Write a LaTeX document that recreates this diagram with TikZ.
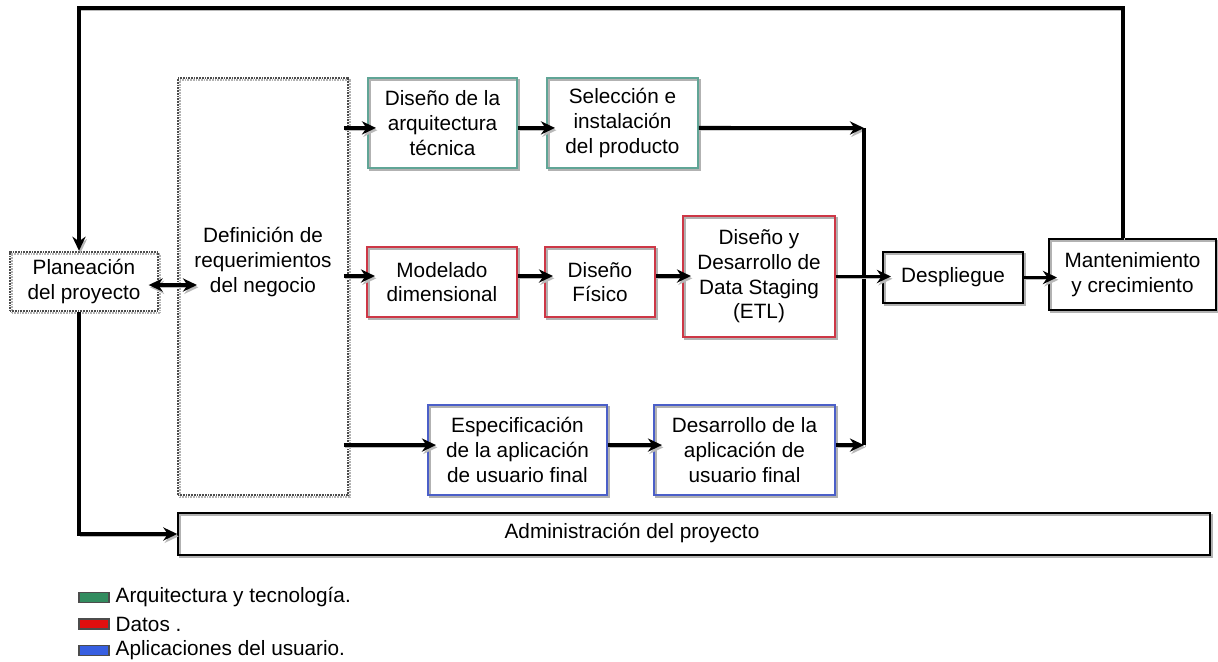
\documentclass[tikz,border=0pt]{standalone}
\usepackage{fontspec}
\setmainfont{Liberation Sans}
\usetikzlibrary{arrows.meta,positioning}

\definecolor{verdeArq}{RGB}{96,165,150}
\definecolor{rojoDat}{RGB}{205,55,70}
\definecolor{azulApp}{RGB}{75,95,200}
\definecolor{verdeLey}{RGB}{50,140,95}
\definecolor{rojoLey}{RGB}{225,15,15}
\definecolor{azulLey}{RGB}{55,95,225}

\tikzset{
  punta/.tip={Stealth[length=8pt,width=7.5pt]},
  sombra/.style={preaction={draw=gray!60, line width=1pt, transform canvas={shift={(1.2pt,-1.2pt)}}}},
  caja/.style={rectangle, draw=#1, line width=0.9pt, align=center, inner sep=1pt, sombra},
  punteada/.style={rectangle, draw=black!70, line width=1.4pt, dash pattern=on 0.5pt off 0.4pt, align=center, sombra},
  linea/.style={line width=2.2pt, preaction={draw=gray!55, transform canvas={shift={(0.8pt,-1.3pt)}}}},
  flecha/.style={linea, -punta},
  entra/.style={flecha, shorten >=-5pt},
  ley/.style={rectangle, draw=black!70, line width=0.6pt, minimum width=0.6cm, minimum height=0.2cm, inner sep=0pt}
}

\begin{document}
\begin{tikzpicture}[x=0.02cm, y=-0.02cm, font=\fontsize{11.8}{14}\selectfont]
                    \useasboundingbox (0,0) rectangle (1218,662);
                    \node[punteada, minimum width=2.96cm, minimum height=1.18cm] (plan) at (84,281.5) {Planeación\\del proyecto};
                    \node[punteada, minimum width=3.4cm, minimum height=8.34cm] (defn) at (263,286.5) {};
                    \node[align=center] (defntxt) at (263,262) {Definición de\\requerimientos\\del negocio};
                    \node[caja=verdeArq, minimum width=2.98cm, minimum height=1.8cm] (arq) at (442.5,123) {Diseño de la\\arquitectura\\técnica};
                    \node[caja=verdeArq, minimum width=3.02cm, minimum height=1.8cm] (sel) at (622.5,123) {Selección e\\instalación\\del producto};
                    \node[caja=rojoDat, minimum width=3cm, minimum height=1.4cm] (mod) at (442,282) {Modelado\\dimensional};
                    \node[caja=rojoDat, minimum width=2.2cm, minimum height=1.4cm] (fis) at (600,282) {Diseño\\Físico};
                    \node[caja=rojoDat, minimum width=3.04cm, minimum height=2.42cm] (etl) at (759,276.5) {Diseño y\\Desarrollo de\\Data Staging\\(ETL)};
                    \node[caja=azulApp, minimum width=3.58cm, minimum height=1.8cm] (esp) at (517.5,450) {Especificación\\de la aplicación\\de usuario final};
                    \node[caja=azulApp, minimum width=3.62cm, minimum height=1.8cm] (des) at (744.5,450) {Desarrollo de la\\aplicación de\\usuario final};
                    \node[caja=black, minimum width=2.8cm, minimum height=1.02cm] (desp) at (953,277.5) {Despliegue};
                    \node[caja=black, minimum width=3.34cm, minimum height=1.42cm] (mant) at (1132.5,274.5) {Mantenimiento\\y crecimiento};
                    \node[caja=black, minimum width=20.64cm, minimum height=0.84cm] (adm) at (694,534) {};
                    \node (admtxt) at (632,533) {Administración del proyecto};
                    \coordinate (col) at (864,128);
                    \coordinate (esqDer) at (1123,8);
                    \coordinate (esqIzq) at (79,8);
                    \draw[flecha, punta-punta, shorten <=-6pt, shorten >=-5pt] ([yshift=-2pt]plan.east) -- ([yshift=-2pt]plan.east -| defntxt.west);
                    \draw[entra] ([xshift=-3pt,yshift=-2.8pt]defn.east |- arq.west) -- ([yshift=-2.8pt]arq.west);
                    \draw[entra] ([yshift=-2.8pt]arq.east) -- ([yshift=-2.8pt]sel.west);
                    \draw[flecha] ([yshift=-2.8pt]sel.east) -- (col);
                    \draw[entra] ([xshift=-3pt,yshift=3.4pt]defn.east |- mod.west) -- ([yshift=3.4pt]mod.west);
                    \draw[entra] ([yshift=3.4pt]mod.east) -- ([yshift=3.4pt]fis.west);
                    \draw[entra] ([yshift=3.4pt]fis.east) -- ([yshift=3.4pt]fis.east -| etl.west);
                    \draw[entra] ([xshift=-3pt,yshift=2.8pt]defn.east |- esp.west) -- ([yshift=2.8pt]esp.west);
                    \draw[entra] ([yshift=2.8pt]esp.east) -- ([yshift=2.8pt]des.west);
                    \draw[flecha] ([yshift=2.8pt]des.east) -- ([yshift=2.8pt]des.east -| col);
                    \draw[linea] (col) -- ([yshift=2.8pt]des.east -| col);
                    \draw[entra] (etl.east) -- (etl.east -| desp.west);
                    \draw[entra] (desp.east) -- (desp.east -| mant.west);
                    \draw[flecha] (esqDer |- mant.north) -- (esqDer) -- (esqIzq) -- (esqIzq |- plan.north);
                    \draw[flecha] (esqIzq |- plan.south) |- (adm.west);
                    \foreach \col/\txt [count=\i] in {verdeLey/Arquitectura y tecnología., rojoLey/Datos ., azulLey/Aplicaciones del usuario.} {
                        \node[ley, fill=\col] (ley\i) at (94,571+26.5*\i) {};
                        \node[right=0pt of ley\i] (leytxt\i) {\txt};
                    }
                \end{tikzpicture}
\end{document}
